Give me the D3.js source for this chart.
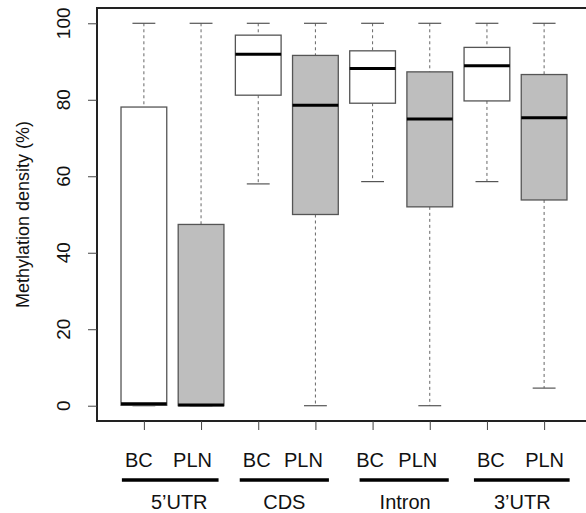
<!DOCTYPE html>
<html>
<head>
<meta charset="utf-8">
<script src="https://cdn.jsdelivr.net/npm/d3@7"></script>
<style>
  body { margin: 0; background: #fff; }
  text { font-family: "Liberation Sans", Arial, Helvetica, sans-serif; fill: #111; }
</style>
</head>
<body>
<div id="wrapper"></div>
<script>
// data
const regions = ["5’UTR", "CDS", "Intron", "3’UTR"]
const groups = ["BC", "PLN"]
const whiskerLow = [0, 0, 58.0, 0, 58.6, 0, 58.6, 4.6]
const q1 = [0.1, 0, 81.2, 50.0, 79.1, 52.0, 79.7, 53.8]
const medians = [0.5, 0.2, 91.9, 78.6, 88.2, 75.0, 88.9, 75.3]
const q3 = [78.1, 47.4, 96.9, 91.6, 92.8, 87.3, 93.7, 86.6]
const whiskerHigh = [100, 100, 100, 100, 100, 100, 100, 100]
const yTicks = [0, 20, 40, 60, 80, 100]

// little hand nudges for the under-axis labels (px)
const labelNudge = [-5, -8.5, -1.5, -12, -2.5, -12, 4, 0.5]
const underlineNudge = [[-22, 17.5], [-18.5, 13.5], [-13, 19], [-13, 25.5]]
const regionNudge = [9, 0, 1, 0.5]

function drawBoxplot() {
    const boxes = q1.map((d, i) => ({
        pos: i + 1,
        group: groups[i % 2],
        low: whiskerLow[i], q1: q1[i], med: medians[i], q3: q3[i], high: whiskerHigh[i],
    }))

    const width = 586
    const height = 513
    const plot = { left: 97, top: 8, right: 591, bottom: 421 }

    const svg = d3.select("#wrapper").append("svg")
        .attr("width", width)
        .attr("height", height)

    // R style: 4% padding around [0.5, 8.5] and [0, 100]
    const xScale = d3.scaleLinear()
        .domain([0.18, 8.82])
        .range([plot.left, plot.right])

    const yScale = d3.scaleLinear()
        .domain([-4, 104])
        .range([plot.bottom, plot.top])

    const halfBox = xScale(1.4) - xScale(1)
    const halfCap = halfBox / 2

    const boxG = svg.append("g")
        .selectAll("g")
        .data(boxes)
        .join("g")

    // whiskers
    boxG.append("line")
        .attr("x1", d => xScale(d.pos)).attr("x2", d => xScale(d.pos))
        .attr("y1", d => yScale(d.high)).attr("y2", d => yScale(d.q3))
        .attr("stroke", "#666").attr("stroke-dasharray", "3,3")
    boxG.append("line")
        .attr("x1", d => xScale(d.pos)).attr("x2", d => xScale(d.pos))
        .attr("y1", d => yScale(d.q1)).attr("y2", d => yScale(d.low))
        .attr("stroke", "#666").attr("stroke-dasharray", "3,3")
    boxG.selectAll(".cap")
        .data(d => [d.high, d.low].map(v => ({ pos: d.pos, v })))
        .join("line")
        .attr("class", "cap")
        .attr("x1", d => xScale(d.pos) - halfCap).attr("x2", d => xScale(d.pos) + halfCap)
        .attr("y1", d => yScale(d.v)).attr("y2", d => yScale(d.v))
        .attr("stroke", "#555").attr("stroke-width", 1.2)

    // boxes
    boxG.append("rect")
        .attr("x", d => xScale(d.pos) - halfBox)
        .attr("width", halfBox * 2)
        .attr("y", d => yScale(d.q3))
        .attr("height", d => yScale(d.q1) - yScale(d.q3))
        .attr("fill", d => d.group === "BC" ? "#ffffff" : "#bebebe")
        .attr("stroke", "#555").attr("stroke-width", 1.3)

    boxG.append("line")
        .attr("x1", d => xScale(d.pos) - halfBox).attr("x2", d => xScale(d.pos) + halfBox)
        .attr("y1", d => yScale(d.med)).attr("y2", d => yScale(d.med))
        .attr("stroke", "#000").attr("stroke-width", 3)

    // frame
    svg.append("rect")
        .attr("x", plot.left).attr("y", plot.top)
        .attr("width", plot.right - plot.left)
        .attr("height", plot.bottom - plot.top)
        .attr("fill", "none").attr("stroke", "#222").attr("stroke-width", 2)

    // y axis: ticks from d3, labels drawn rotated like base R
    const yAxis = svg.append("g")
        .attr("transform", `translate(${plot.left},0)`)
        .call(d3.axisLeft(yScale).tickValues(yTicks).tickSize(9).tickSizeOuter(0).tickFormat(""))
    yAxis.select(".domain").remove()
    yAxis.selectAll(".tick line").attr("stroke", "#444")

    // labels sit in a rotated group, same as the axis title
    const yLabels = svg.append("g")
        .attr("transform", "rotate(-90)")
    yLabels.selectAll("text")
        .data(yTicks)
        .join("text")
        .attr("x", d => -yScale(d))
        .attr("y", plot.left - 27)
        .attr("text-anchor", "middle")
        .style("font-size", "19px")
        .text(d => String(d))

    svg.append("text")
        .attr("transform", `translate(29,${(plot.top + plot.bottom) / 2}) rotate(-90)`)
        .attr("text-anchor", "middle")
        .style("font-size", "18px")
        .text("Methylation density (%)")

    // x axis ticks (no labels, drawn by hand below)
    const xAxis = svg.append("g")
        .attr("transform", `translate(0,${plot.bottom})`)
        .call(d3.axisBottom(xScale).tickValues(boxes.map(d => d.pos)).tickSize(9).tickFormat(""))
    xAxis.select(".domain").remove()
    xAxis.selectAll(".tick line").attr("stroke", "#444")

    svg.append("g")
        .selectAll("text")
        .data(boxes)
        .join("text")
        .attr("x", (d, i) => xScale(d.pos) + labelNudge[i])
        .attr("y", 467)
        .attr("text-anchor", "middle")
        .style("font-size", "20px")
        .text(d => d.group)

    const regionG = svg.append("g")
        .selectAll("g")
        .data(regions)
        .join("g")

    regionG.append("line")
        .attr("x1", (d, i) => xScale(2 * i + 1) + underlineNudge[i][0])
        .attr("x2", (d, i) => xScale(2 * i + 2) + underlineNudge[i][1])
        .attr("y1", 480).attr("y2", 480)
        .attr("stroke", "#000").attr("stroke-width", 3.5)

    regionG.append("text")
        .attr("x", (d, i) => (xScale(2 * i + 1) + underlineNudge[i][0] + xScale(2 * i + 2) + underlineNudge[i][1]) / 2 + regionNudge[i])
        .attr("y", 509)
        .attr("text-anchor", "middle")
        .style("font-size", "20px")
        .text(d => d)
}

drawBoxplot()
</script>
</body>
</html>
